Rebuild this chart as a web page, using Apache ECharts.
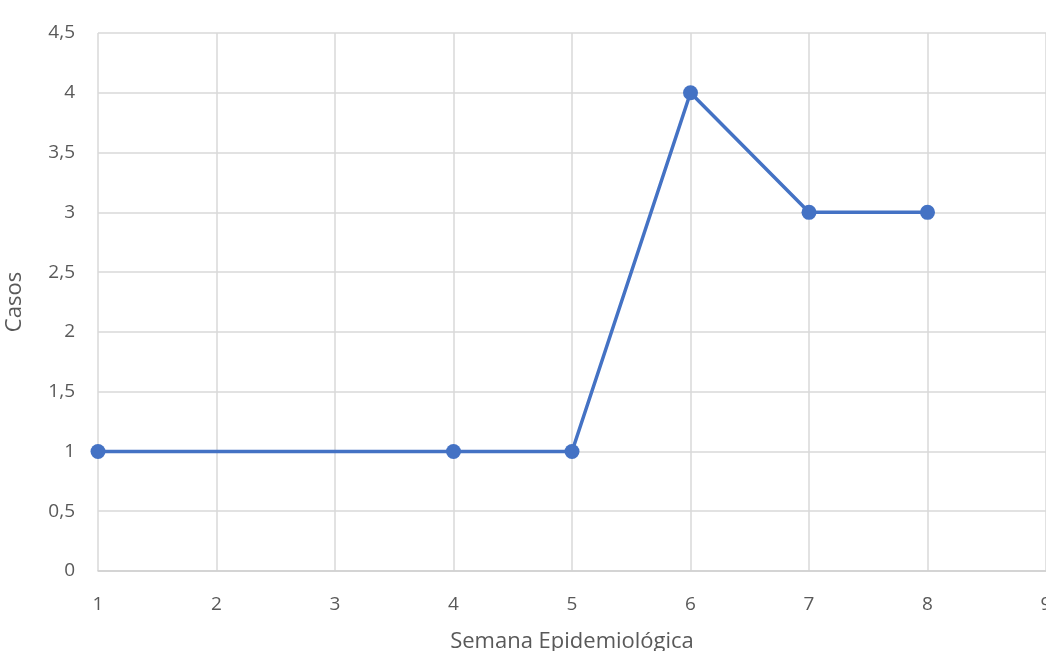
<!DOCTYPE html>
<html><head><meta charset="utf-8">
<script src="https://cdn.jsdelivr.net/npm/echarts@6/dist/echarts.min.js"></script>
<style>html,body{margin:0;padding:0;background:#fff}#c{width:1046px;height:651px}</style>
</head><body><div id="c"></div>
<script>
const weeks = [1, 4, 5, 6, 7, 8];
const cases = [1, 1, 1, 4, 3, 3];
const xName = 'Semana Epidemiológica';
const yName = 'Casos';
const FONT = '"Open Sans", sans-serif';
const fmt = v => String(v).replace('.', ',');
const chart = echarts.init(document.getElementById('c'));
chart.setOption({
  animation: false,
  grid: {left: 98, right: 0, top: 33, bottom: 80, containLabel: false, outerBoundsMode: 'none'},
  xAxis: {
    type: 'value', min: 1, max: 9, interval: 1,
    name: xName, nameLocation: 'middle', nameGap: 60,
    nameTextStyle: {color: '#595959', fontSize: 22, fontFamily: FONT},
    axisLine: {show: true, lineStyle: {color: '#d0d0d0', width: 1.5}},
    axisTick: {show: false},
    axisLabel: {color: '#595959', fontSize: 19, fontFamily: FONT, margin: 24, formatter: fmt},
    splitLine: {show: true, lineStyle: {color: '#d9d9d9', width: 1.5}}
  },
  yAxis: {
    type: 'value', min: 0, max: 4.5, interval: 0.5,
    name: yName, nameLocation: 'middle', nameGap: 72, nameRotate: 90,
    nameTextStyle: {color: '#595959', fontSize: 22, fontFamily: FONT},
    axisLine: {show: false}, axisTick: {show: false},
    axisLabel: {color: '#595959', fontSize: 19, fontFamily: FONT, margin: 23, formatter: fmt},
    splitLine: {show: true, lineStyle: {color: '#d9d9d9', width: 1.5}}
  },
  series: [{
    type: 'line',
    data: weeks.map((w, i) => [w, cases[i]]),
    lineStyle: {color: '#4472C4', width: 3.5},
    itemStyle: {color: '#4472C4'},
    symbol: 'circle', symbolSize: 15, showSymbol: true
  }]
});
</script></body></html>
